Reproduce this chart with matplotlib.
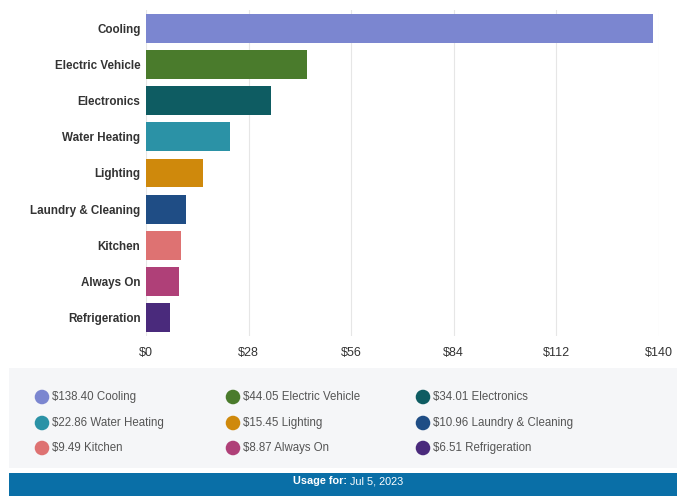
import matplotlib
matplotlib.use("Agg")
from matplotlib import pyplot as plt
from matplotlib.patches import Rectangle

plt.rcParams['font.family'] = ['Liberation Sans', 'DejaVu Sans']

# usage by category, largest first
categories = ["Cooling", "Electric Vehicle", "Electronics", "Water Heating", "Lighting",
              "Laundry & Cleaning", "Kitchen", "Always On", "Refrigeration"]
costs = [138.40, 44.05, 34.01, 22.86, 15.45, 10.96, 9.49, 8.87, 6.51]
colors = ["#7b86d0", "#4a7b2c", "#0e5c62", "#2b92a6", "#cf890c",
          "#1f4d85", "#de7272", "#af4078", "#4a2a7c"]
xticks = [0, 28, 56, 84, 112, 140]
usage_date = "Jul 5, 2023"

W, H = 677, 496
fig = plt.figure(figsize=(W / 100, H / 100), dpi=100)

def box(x0, y0, x1, y1):
    # pixel box (top-left origin) -> figure fractions
    return [x0 / W, 1 - y1 / H, (x1 - x0) / W, (y1 - y0) / H]

# main bar chart
ax = fig.add_axes(box(146, 10, 659, 336))
ypos = list(range(len(categories)))
ax.barh(ypos, costs, height=0.8, color=colors, zorder=3)
ax.set_ylim(len(categories) - 0.5, -0.5)
ax.set_xlim(0, 140)
ax.set_xticks(xticks)
ax.set_xticklabels(["$%d" % t for t in xticks], fontsize=9, color="#333333")
ax.set_yticks(ypos)
ax.set_yticklabels(categories, fontsize=8.4, fontweight="bold", color="#333333")
ax.tick_params(length=0, axis="x", pad=8)
ax.tick_params(length=0, axis="y", pad=4)
ax.grid(axis="x", color="#e6e6e6", linewidth=0.8, zorder=0)
for s in ax.spines.values():
    s.set_visible(False)

# legend panel
lax = fig.add_axes(box(9, 368, 677, 468))
lax.set_xlim(9, 677)
lax.set_ylim(468, 368)
lax.set_facecolor("#f5f6f8")
lax.set_xticks([])
lax.set_yticks([])
for s in lax.spines.values():
    s.set_visible(False)

col_x = [42, 233, 423]
row_y = [397, 423, 448]
for i, (name, val, c) in enumerate(zip(categories, costs, colors)):
    x = col_x[i % 3]
    y = row_y[i // 3]
    lax.scatter([x], [y], s=110, color=c, edgecolors="none")
    lax.text(x + 10, y, "$%.2f %s" % (val, name), fontsize=8.3, color="#555555",
             va="center", ha="left")

# footer
fax = fig.add_axes(box(9, 473, 677, 496))
fax.set_xlim(9, 677)
fax.set_ylim(496, 473)
fax.add_patch(Rectangle((9, 473), 668, 23, color="#0a6fa7"))
fax.axis("off")
fax.text(347, 481.5, "Usage for:", color="white", fontsize=7.8, fontweight="bold",
         ha="right", va="center")
fax.text(350, 481.5, usage_date, color="white", fontsize=7.8, ha="left", va="center")

fig.savefig("out.png", dpi=100)
